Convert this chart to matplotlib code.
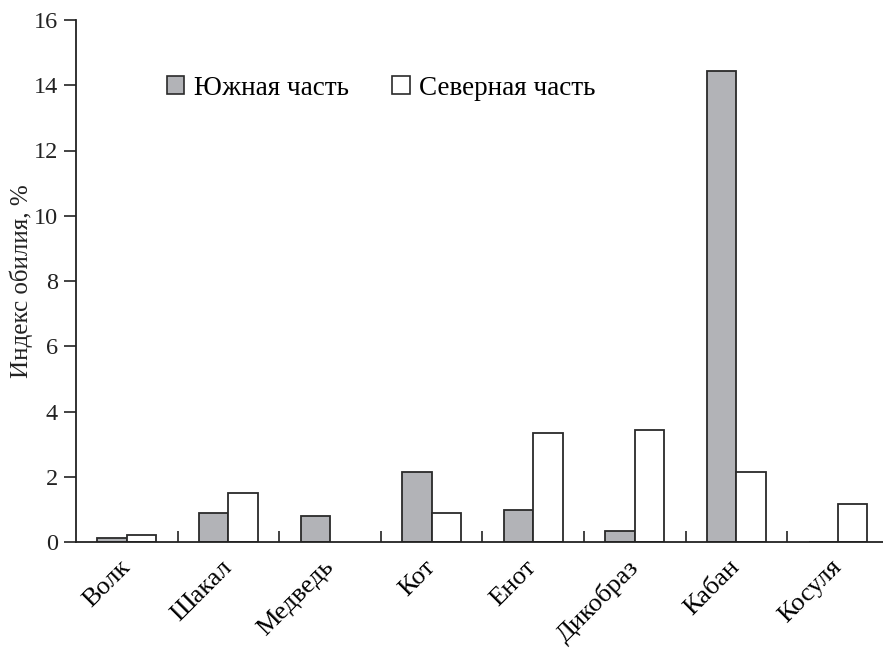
import numpy as np
import matplotlib
matplotlib.use('Agg')
import matplotlib.pyplot as plt
from matplotlib.patches import Patch
from matplotlib.transforms import ScaledTranslation

plt.rcParams['font.family'] = ['Liberation Serif', 'DejaVu Serif']

# Data
animals = ['Волк', 'Шакал', 'Медведь', 'Кот', 'Енот', 'Дикобраз', 'Кабан', 'Косуля']
south = [0.11, 0.90, 0.80, 2.16, 0.99, 0.35, 14.43, 0.0]
north = [0.21, 1.50, 0.0, 0.88, 3.33, 3.43, 2.16, 1.18]
yticks = [0, 2, 4, 6, 8, 10, 12, 14, 16]

grey = '#b2b3b7'
edge = '#2a2a2a'
w = 0.29

fig = plt.figure(figsize=(8.83, 6.48), dpi=100)
ax = fig.add_axes([76 / 883, 1 - 542 / 648, 807 / 883, 522 / 648])

x = np.arange(len(animals))
ax.bar(x - w / 2, south, w, color=grey, edgecolor=edge, linewidth=1.3)
nz = [i for i, v in enumerate(north) if v > 0]
ax.bar(x[nz] + w / 2, [north[i] for i in nz], w, color='white', edgecolor=edge, linewidth=1.3)

ax.set_xlim(-0.5, -0.5 + 807 / 101.6)
ax.set_ylim(0, 16)
ax.set_yticks(yticks)
ax.tick_params(axis='y', direction='out', length=9, width=1.2, labelsize=17.5, pad=4, colors='#222')

ax.set_xticks(x)
ax.set_xticks(x[:-1] + 0.5, minor=True)
ax.tick_params(axis='x', which='major', length=0, pad=10)
ax.tick_params(axis='x', which='minor', direction='in', length=8, width=1.2, color='#222')
ax.set_xticklabels(animals, rotation=45, ha='right', va='top', rotation_mode='anchor', fontsize=19)
for lab in ax.get_xticklabels():
    lab.set_transform(lab.get_transform() + ScaledTranslation(-0.08, 0, fig.dpi_scale_trans))

for s in ['top', 'right']:
    ax.spines[s].set_visible(False)
for s in ['left', 'bottom']:
    ax.spines[s].set_linewidth(1.3)
    ax.spines[s].set_color('#222')

fig.text(21 / 883, 1 - 281 / 648, 'Индекс обилия, %', rotation=90, ha='center', va='center',
         fontsize=18, color='#222')

handles = [Patch(facecolor=grey, edgecolor=edge, linewidth=1.2),
           Patch(facecolor='white', edgecolor=edge, linewidth=1.2)]
ax.legend(handles, ['Южная часть', 'Северная часть'], ncol=2, frameon=False,
          fontsize=19.5, handlelength=0.65, handleheight=0.65, handletextpad=0.35,
          columnspacing=1.6, loc='center left', bbox_to_anchor=(0.082, 0.869))

fig.savefig('out.png', dpi=100)
